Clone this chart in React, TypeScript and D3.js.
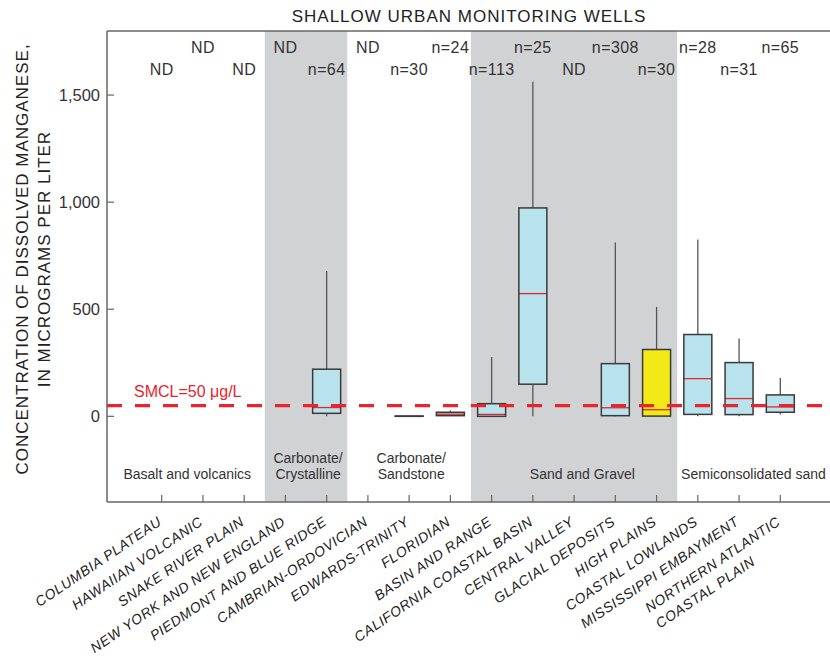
import React, { useEffect, useRef } from 'react';
import * as d3 from 'd3';

// Principal aquifers sampled by shallow urban monitoring wells (label lines per category)
const categories: string[][] = [
  ['COLUMBIA PLATEAU'],
  ['HAWAIIAN VOLCANIC'],
  ['SNAKE RIVER PLAIN'],
  ['NEW YORK AND NEW ENGLAND'],
  ['PIEDMONT AND BLUE RIDGE'],
  ['CAMBRIAN-ORDOVICIAN'],
  ['EDWARDS-TRINITY'],
  ['FLORIDIAN'],
  ['BASIN AND RANGE'],
  ['CALIFORNIA COASTAL BASIN'],
  ['CENTRAL VALLEY'],
  ['GLACIAL DEPOSITS'],
  ['HIGH PLAINS'],
  ['COASTAL LOWLANDS'],
  ['MISSISSIPPI EMBAYMENT'],
  ['NORTHERN ATLANTIC', 'COASTAL PLAIN'],
];

// Number of samples (ND = no data)
const sampleLabels = [
  'ND', 'ND', 'ND', 'ND', 'n=64', 'ND', 'n=30', 'n=24',
  'n=113', 'n=25', 'ND', 'n=308', 'n=30', 'n=28', 'n=31', 'n=65',
];

// Box-plot statistics, micrograms per liter (null where no data)
const whiskerLow: (number | null)[] = [null, null, null, null, 0, null, 0, 3, 0, 0, null, 0, 0, 0, 0, 9];
const quartile1: (number | null)[] = [null, null, null, null, 14, null, 0, 3, 0, 150, null, 3, 1, 9, 8, 19];
const medians: (number | null)[] = [null, null, null, null, 41, null, 0.5, 10, 9, 573, null, 40, 31, 176, 83, 44];
const quartile3: (number | null)[] = [null, null, null, null, 220, null, 1.5, 19, 59, 973, null, 246, 312, 382, 251, 100];
const whiskerHigh: (number | null)[] = [null, null, null, null, 678, null, 1.5, 28, 277, 1562, null, 812, 511, 826, 363, 179];

const highlightedCategories = ['HIGH PLAINS'];

// Aquifer rock-type groups: first/last category index, label lines, label position (index units)
const groupNames: string[][] = [
  ['Basalt and volcanics'],
  ['Carbonate/', 'Crystalline'],
  ['Carbonate/', 'Sandstone'],
  ['Sand and Gravel'],
  ['Semiconsolidated sand'],
];
const groupFirst = [0, 3, 5, 8, 13];
const groupLast = [2, 4, 7, 12, 15];
const groupShaded = [false, true, false, true, false];
const groupLabelAt = [0.62, 3.55, 6.05, 10.2, 14.35];

const yTicks = [0, 500, 1000, 1500];
const smclValue = 50;
const smclLabel = 'SMCL=50 \u03BCg/L';

const title = 'SHALLOW URBAN MONITORING WELLS';
const yTitle = ['CONCENTRATION OF DISSOLVED MANGANESE,', 'IN MICROGRAMS PER LITER'];

const FONT = "'Liberation Sans', Arial, Helvetica, sans-serif";

export default function App() {
  const ref = useRef<SVGSVGElement>(null);

  useEffect(() => {
    const W = 830;
    const H = 668;
    const left = 107;
    const right = 830;
    const top = 31;
    const bottom = 502;

    const svg = d3.select(ref.current);
    svg.selectAll('*').remove();
    svg.attr('width', W).attr('height', H);

    const x = d3.scaleLinear().domain([0, categories.length - 1]).range([161.7, 780.3]);
    const y = d3.scaleLinear().domain([-400, 1800]).range([bottom, 416 - 1800 * 0.214]);

    const boxW = 28;

    // shaded group bands
    groupNames.forEach((_, g) => {
      if (!groupShaded[g]) return;
      svg.append('rect')
        .attr('x', x(groupFirst[g] - 0.5))
        .attr('y', top)
        .attr('width', x(groupLast[g] + 0.5) - x(groupFirst[g] - 0.5))
        .attr('height', bottom - top)
        .attr('fill', '#d1d2d4');
    });

    // frame
    const axisColor = '#666';
    svg.append('line').attr('x1', left).attr('x2', right).attr('y1', top).attr('y2', top)
      .attr('stroke', axisColor).attr('stroke-width', 1.5);
    svg.append('line').attr('x1', left).attr('x2', left).attr('y1', top).attr('y2', bottom)
      .attr('stroke', axisColor).attr('stroke-width', 1.5);
    svg.append('line').attr('x1', left).attr('x2', right).attr('y1', bottom).attr('y2', bottom)
      .attr('stroke', axisColor).attr('stroke-width', 1.5);

    // y ticks
    yTicks.forEach((t) => {
      svg.append('line').attr('x1', left).attr('x2', left + 7).attr('y1', y(t)).attr('y2', y(t))
        .attr('stroke', axisColor).attr('stroke-width', 1.2);
      svg.append('text')
        .attr('x', 100).attr('y', y(t)).attr('dy', '0.36em')
        .attr('text-anchor', 'end')
        .attr('font-family', FONT).attr('font-size', 16.5).attr('fill', '#333')
        .text(d3.format(',')(t));
    });

    // x ticks
    categories.forEach((_, i) => {
      svg.append('line').attr('x1', x(i)).attr('x2', x(i)).attr('y1', bottom).attr('y2', bottom - 7)
        .attr('stroke', axisColor).attr('stroke-width', 1.2);
    });

    // box plots
    const boxes = categories.map((c, i) => ({
      i,
      name: c.join(' '),
      lo: whiskerLow[i], q1: quartile1[i], med: medians[i], q3: quartile3[i], hi: whiskerHigh[i],
    })).filter((b) => b.q1 !== null);

    const g = svg.append('g');
    boxes.forEach((b) => {
      const cx = x(b.i);
      const fill = highlightedCategories.includes(b.name) ? '#f2e916' : '#b8e2ec';
      g.append('line').attr('x1', cx).attr('x2', cx).attr('y1', y(b.lo as number)).attr('y2', y(b.q1 as number))
        .attr('stroke', '#555').attr('stroke-width', 1.3);
      g.append('line').attr('x1', cx).attr('x2', cx).attr('y1', y(b.q3 as number)).attr('y2', y(b.hi as number))
        .attr('stroke', '#555').attr('stroke-width', 1.3);
      const y3 = y(b.q3 as number);
      const y1 = y(b.q1 as number);
      g.append('rect').attr('x', cx - boxW / 2).attr('y', y3).attr('width', boxW).attr('height', Math.max(0, y1 - y3))
        .attr('fill', fill);
      g.append('line').attr('x1', cx - boxW / 2).attr('x2', cx + boxW / 2)
        .attr('y1', y(b.med as number)).attr('y2', y(b.med as number))
        .attr('stroke', '#e8242c').attr('stroke-width', 1.3);
      g.append('rect').attr('x', cx - boxW / 2).attr('y', y3).attr('width', boxW).attr('height', Math.max(0, y1 - y3))
        .attr('fill', 'none').attr('stroke', '#3a3a3a').attr('stroke-width', 1.5);
    });

    // secondary maximum contaminant level
    svg.append('line')
      .attr('x1', left).attr('x2', right).attr('y1', y(smclValue)).attr('y2', y(smclValue))
      .attr('stroke', '#e8242c').attr('stroke-width', 3.2).attr('stroke-dasharray', '15,13');
    svg.append('text')
      .attr('x', 134).attr('y', 397)
      .attr('font-family', FONT).attr('font-size', 16).attr('fill', '#e8242c')
      .text(smclLabel);

    // sample counts, alternating rows
    sampleLabels.forEach((s, i) => {
      svg.append('text')
        .attr('x', x(i)).attr('y', i % 2 === 0 ? 75 : 53)
        .attr('text-anchor', 'middle')
        .attr('font-family', FONT).attr('font-size', 16).attr('letter-spacing', 0.4).attr('fill', '#333')
        .text(s);
    });

    // group labels
    groupNames.forEach((lines, gi) => {
      const cx = x(groupLabelAt[gi]);
      lines.forEach((ln, k) => {
        const yy = 479 - (lines.length - 1 - k) * 16;
        svg.append('text')
          .attr('x', cx).attr('y', yy)
          .attr('text-anchor', 'middle')
          .attr('font-family', FONT).attr('font-size', 14).attr('fill', '#333')
          .text(ln);
      });
    });

    // category labels, rotated
    const angle = -34;
    categories.forEach((lines, i) => {
      const lg = svg.append('g')
        .attr('transform', `translate(${x(i) + 1},${524}) rotate(${angle})`);
      const first = lg.append('text')
        .attr('x', 0).attr('y', 0)
        .attr('text-anchor', 'end')
        .attr('font-family', FONT).attr('font-size', 14).attr('font-style', 'italic')
        .attr('letter-spacing', 0.6).attr('fill', '#222')
        .text(lines[0]);
      if (lines.length > 1) {
        const w = (first.node() as SVGTextElement).getComputedTextLength();
        lines.slice(1).forEach((ln, k) => {
          lg.append('text')
            .attr('x', -w).attr('y', 19 * (k + 1))
            .attr('text-anchor', 'start')
            .attr('font-family', FONT).attr('font-size', 14).attr('font-style', 'italic')
            .attr('letter-spacing', 0.6).attr('fill', '#222')
            .text(ln);
        });
      }
    });

    // title
    svg.append('text')
      .attr('x', 469).attr('y', 22)
      .attr('text-anchor', 'middle')
      .attr('font-family', FONT).attr('font-size', 17).attr('letter-spacing', 1).attr('fill', '#222')
      .text(title);

    // y axis title
    yTitle.forEach((ln, k) => {
      svg.append('text')
        .attr('transform', `translate(${28 + k * 22},${259}) rotate(-90)`)
        .attr('text-anchor', 'middle')
        .attr('font-family', FONT).attr('font-size', 17).attr('letter-spacing', 1).attr('fill', '#222')
        .text(ln);
    });
  }, []);

  return (
    <svg
      ref={ref}
      width={830}
      height={668}
      style={{ position: 'absolute', left: 0, top: 0, background: '#fff' }}
    />
  );
}
